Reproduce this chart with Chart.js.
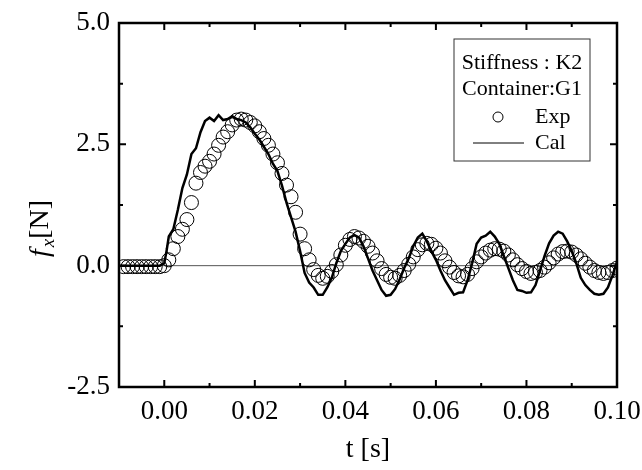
<!DOCTYPE html>
<html>
<head>
<meta charset="utf-8">
<script src="https://cdn.jsdelivr.net/npm/chart.js@4"></script>
<style>
  html, body { margin: 0; padding: 0; background: #fff; }
  #wrap { width: 642px; height: 470px; }
</style>
</head>
<body>
<div id="wrap"><canvas id="grafica"></canvas></div>
<script>
// Exp: measured force, time in ms
const expMs = [-9, -8, -7, -6, -5, -4, -3, -2, -1, 0, 1, 2, 3, 4, 5, 6, 7, 8, 9, 10,
  11, 12, 13, 14, 15, 16, 17, 18, 19, 20, 21, 22, 23, 24, 25, 26, 27, 28, 29, 30,
  31, 32, 33, 34, 35, 36, 37, 38, 39, 40, 41, 42, 43, 44, 45, 46, 47, 48, 49, 50,
  51, 52, 53, 54, 55, 56, 57, 58, 59, 60, 61, 62, 63, 64, 65, 66, 67, 68, 69, 70,
  71, 72, 73, 74, 75, 76, 77, 78, 79, 80, 81, 82, 83, 84, 85, 86, 87, 88, 89, 90,
  91, 92, 93, 94, 95, 96, 97, 98, 99, 100];
const expF = [-0.02, -0.02, -0.02, -0.02, -0.02, -0.02, -0.02, -0.02, -0.02, 0.0,
  0.12, 0.35, 0.6, 0.75, 0.95, 1.3, 1.7, 1.92, 2.05, 2.15,
  2.3, 2.48, 2.65, 2.76, 2.9, 3.0, 3.02, 3.0, 2.95, 2.88,
  2.76, 2.62, 2.48, 2.3, 2.12, 1.9, 1.66, 1.42, 1.1, 0.65,
  0.35, 0.12, -0.08, -0.2, -0.26, -0.22, -0.12, 0.02, 0.22, 0.42,
  0.54, 0.6, 0.57, 0.5, 0.4, 0.26, 0.1, -0.06, -0.18, -0.24,
  -0.26, -0.2, -0.1, 0.03, 0.18, 0.33, 0.43, 0.46, 0.44, 0.36,
  0.26, 0.1, -0.03, -0.14, -0.21, -0.23, -0.18, -0.06, 0.08, 0.18,
  0.26, 0.32, 0.35, 0.34, 0.3, 0.22, 0.12, 0.02, -0.06, -0.12,
  -0.16, -0.14, -0.1, -0.03, 0.06, 0.16, 0.24, 0.29, 0.3, 0.28,
  0.22, 0.14, 0.05, -0.03, -0.1, -0.14, -0.16, -0.14, -0.1, -0.05];

// Cal: calculated force, time in ms
const calMs = [-10, -9, -8, -7, -6, -5, -4, -3, -2, -1, 0, 0.5, 1, 2, 3, 4, 5, 6, 7, 8, 9, 10,
  11, 12, 13, 14, 15, 16, 17, 18, 19, 20, 21, 22, 23, 24, 25, 26, 27, 28, 29, 30,
  31, 32, 33, 34, 35, 36, 37, 38, 39, 40, 41, 42, 43, 44, 45, 46, 47, 48, 49, 50,
  51, 52, 53, 54, 55, 56, 57, 58, 59, 60, 61, 62, 63, 64, 65, 66, 67, 68, 69, 70,
  71, 72, 73, 74, 75, 76, 77, 78, 79, 80, 81, 82, 83, 84, 85, 86, 87, 88, 89, 90,
  91, 92, 93, 94, 95, 96, 97, 98, 99, 100];
const calF = [0, 0, 0, 0, 0, 0, 0, 0, 0, 0, 0.05, 0.3, 0.6,
  0.75, 1.15, 1.6, 1.88, 2.3, 2.42, 2.75, 2.98, 3.05,
  2.98, 3.1, 3.0, 3.02, 3.08, 3.02, 3.0, 2.95, 2.85, 2.72,
  2.6, 2.45, 2.3, 2.1, 1.95, 1.65, 1.3, 1.0, 0.7, 0.3,
  -0.15, -0.35, -0.45, -0.6, -0.6, -0.45, -0.25, 0.05, 0.3, 0.45,
  0.58, 0.63, 0.58, 0.4, 0.15, -0.1, -0.3, -0.5, -0.62, -0.6,
  -0.48, -0.28, -0.05, 0.15, 0.4, 0.58, 0.66, 0.5, 0.3, 0.12,
  -0.1, -0.3, -0.45, -0.6, -0.56, -0.55, -0.3, 0.05, 0.45, 0.58,
  0.62, 0.7, 0.6, 0.45, 0.2, -0.05, -0.3, -0.5, -0.52, -0.56,
  -0.55, -0.4, -0.1, 0.2, 0.46, 0.62, 0.7, 0.66, 0.5, 0.3,
  0.05, -0.25, -0.4, -0.5, -0.58, -0.6, -0.58, -0.45, -0.2, 0.08];

const xTicks = [0, 0.02, 0.04, 0.06, 0.08, 0.10];
const xMinor = [-0.01, 0.01, 0.03, 0.05, 0.07, 0.09];
const yTicks = [-2.5, 0, 2.5, 5.0];
const yMinor = [-1.25, 1.25, 3.75];
const legendLines = ['Stiffness : K2', 'Container:G1'];

const serif = '"Liberation Serif", "Times New Roman", serif';

const toPts = (ms, f) => ms.map((t, i) => ({ x: t / 1000, y: f[i] }));

const marcoPlugin = {
  id: 'marco',
  beforeDatasetsDraw(chart) {
    const { ctx, chartArea: a, scales } = chart;
    const y0 = scales.y.getPixelForValue(0);
    ctx.save();
    ctx.strokeStyle = '#555';
    ctx.lineWidth = 1;
    ctx.beginPath();
    ctx.moveTo(a.left, y0);
    ctx.lineTo(a.right, y0);
    ctx.stroke();
    ctx.restore();
  },
  afterDraw(chart) {
    const { ctx, chartArea: a, scales } = chart;
    const sx = scales.x, sy = scales.y;
    ctx.save();
    ctx.strokeStyle = '#000';
    ctx.lineWidth = 2.5;
    ctx.strokeRect(a.left, a.top, a.right - a.left, a.bottom - a.top);
    ctx.lineWidth = 2;
    ctx.beginPath();
    const tickX = (v, len) => {
      const px = sx.getPixelForValue(v);
      ctx.moveTo(px, a.bottom); ctx.lineTo(px, a.bottom - len);
      ctx.moveTo(px, a.top); ctx.lineTo(px, a.top + len);
    };
    const tickY = (v, len) => {
      const py = sy.getPixelForValue(v);
      ctx.moveTo(a.left, py); ctx.lineTo(a.left + len, py);
      ctx.moveTo(a.right, py); ctx.lineTo(a.right - len, py);
    };
    xTicks.forEach(v => tickX(v, 7));
    xMinor.forEach(v => tickX(v, 4));
    yTicks.forEach(v => tickY(v, 7));
    yMinor.forEach(v => tickY(v, 4));
    ctx.stroke();

    // axis titles
    ctx.fillStyle = '#000';
    ctx.font = '28px ' + serif;
    ctx.textAlign = 'center';
    ctx.textBaseline = 'middle';
    ctx.fillText('t [s]', (a.left + a.right) / 2, a.bottom + 63);

    ctx.save();
    ctx.translate(48, 257);
    ctx.rotate(-Math.PI / 2);
    ctx.textAlign = 'left';
    ctx.textBaseline = 'alphabetic';
    ctx.font = 'italic 28px ' + serif;
    ctx.fillText('f', 0, 0);
    let w = ctx.measureText('f').width + 2;
    ctx.font = 'italic 19px ' + serif;
    ctx.fillText('x', w, 6);
    w += ctx.measureText('x').width;
    ctx.font = '28px ' + serif;
    ctx.fillText('[N]', w, 0);
    ctx.restore();

    // legend box
    const bx = a.right - 163, by = a.top + 16, bw = 136, bh = 122;
    ctx.lineWidth = 1;
    ctx.strokeStyle = '#333';
    ctx.strokeRect(bx, by, bw, bh);
    ctx.font = '22px ' + serif;
    ctx.textAlign = 'center';
    legendLines.forEach((s, i) => ctx.fillText(s, bx + bw / 2, by + 24 + i * 26));
    ctx.textAlign = 'left';
    ctx.fillText('Exp', bx + 81, by + 78);
    ctx.fillText('Cal', bx + 81, by + 104);
    ctx.lineWidth = 1;
    ctx.strokeStyle = '#000';
    ctx.beginPath();
    ctx.arc(bx + 44, by + 78, 5, 0, Math.PI * 2);
    ctx.stroke();
    ctx.beginPath();
    ctx.moveTo(bx + 19, by + 104);
    ctx.lineTo(bx + 70, by + 104);
    ctx.stroke();
    ctx.restore();
  }
};

new Chart(document.getElementById('grafica'), {
  type: 'scatter',
  data: {
    datasets: [{
      label: 'Cal',
      data: toPts(calMs, calF),
      showLine: true,
      borderColor: '#000',
      borderWidth: 2.5,
      pointRadius: 0,
      tension: 0
    }, {
      label: 'Exp',
      data: toPts(expMs, expF),
      showLine: false,
      borderColor: '#000',
      backgroundColor: 'rgba(0,0,0,0)',
      borderWidth: 1,
      pointRadius: 7
    }]
  },
  options: {
    responsive: true,
    maintainAspectRatio: false,
    animation: false,
    layout: { padding: { top: 23, right: 25, left: 0, bottom: 0 } },
    plugins: { legend: { display: false }, tooltip: { enabled: false } },
    scales: {
      x: {
        type: 'linear',
        min: -0.01,
        max: 0.10,
        afterBuildTicks: s => { s.ticks = xTicks.map(v => ({ value: v })); },
        afterFit: s => { s.height = 83; s.paddingLeft = 0; s.paddingRight = 0; },
        grid: { display: false, drawTicks: false },
        border: { display: false },
        ticks: {
          padding: 9,
          color: '#000',
          font: { family: serif, size: 27 },
          maxRotation: 0,
          callback: v => Number(v).toFixed(2)
        }
      },
      y: {
        type: 'linear',
        min: -2.5,
        max: 5.0,
        afterBuildTicks: s => { s.ticks = yTicks.map(v => ({ value: v })); },
        afterFit: s => { s.width = 119; s.paddingTop = 0; s.paddingBottom = 0; },
        grid: { display: false, drawTicks: false },
        border: { display: false },
        ticks: {
          padding: 9,
          color: '#000',
          font: { family: serif, size: 27 },
          callback: v => Number(v).toFixed(1)
        }
      }
    }
  },
  plugins: [marcoPlugin]
});
</script>
</body>
</html>
